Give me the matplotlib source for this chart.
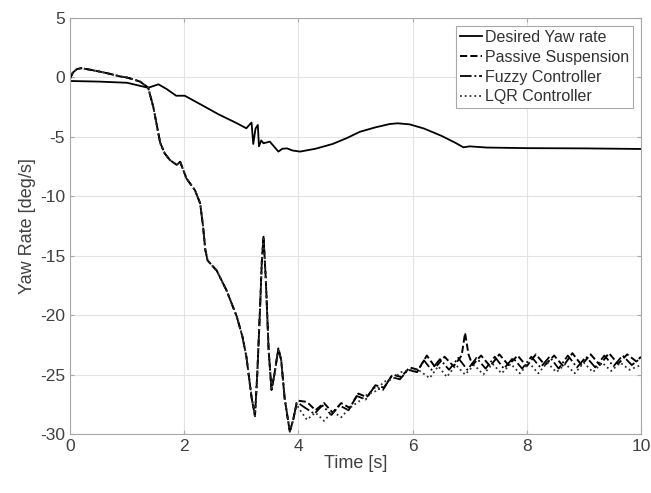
import matplotlib
matplotlib.use("Agg")
import matplotlib.pyplot as plt

plt.rcParams['font.family'] = ['Liberation Sans', 'DejaVu Sans']
plt.rcParams['axes.unicode_minus'] = False

# desired yaw rate
t_des = [0, 0.5, 1.0, 1.37, 1.55, 1.7, 1.86, 2.01, 2.3, 2.6, 2.9, 3.09, 3.14, 3.18,
         3.21, 3.25, 3.29, 3.31, 3.35, 3.39, 3.5, 3.65, 3.72, 3.8, 3.9, 4.03, 4.3,
         4.6, 4.85, 5.08, 5.35, 5.6, 5.74, 5.95, 6.2, 6.5, 6.75, 6.89, 7.0, 7.3,
         8.0, 9.0, 10.0]
y_des = [-0.3, -0.35, -0.45, -0.87, -0.58, -1.0, -1.54, -1.54, -2.3, -3.1, -3.8, -4.28,
         -4.0, -3.8, -5.6, -4.3, -4.0, -5.8, -5.3, -5.54, -5.4, -6.24, -6.0, -5.97,
         -6.15, -6.24, -6.0, -5.6, -5.1, -4.57, -4.2, -3.92, -3.86, -3.95, -4.3, -4.9,
         -5.5, -5.88, -5.8, -5.9, -5.95, -5.97, -6.02]

# common part of the three vehicle responses (0 - 4 s)
t_early = [0.0, 0.05, 0.12, 0.2, 0.35, 0.53, 0.7, 0.88, 0.99, 1.1, 1.23, 1.37, 1.46,
           1.52, 1.58, 1.66, 1.75, 1.87, 1.93, 2.04, 2.19, 2.28, 2.33, 2.37, 2.41,
           2.57, 2.74, 2.92, 3.02, 3.09, 3.18, 3.24, 3.28, 3.33, 3.36, 3.39, 3.43,
           3.48, 3.53, 3.58, 3.65, 3.7, 3.76, 3.85, 3.91, 3.97]
y_early = [-0.1, 0.4, 0.7, 0.78, 0.65, 0.48, 0.3, 0.08, 0.0, -0.15, -0.36, -0.87, -2.5,
           -4.0, -5.5, -6.4, -6.95, -7.36, -7.1, -8.5, -9.5, -10.6, -12.5, -14.5, -15.4,
           -16.25, -17.9, -20.1, -21.8, -23.5, -26.9, -28.5, -25.0, -19.3, -15.5, -13.4,
           -17.0, -23.0, -26.3, -25.0, -22.8, -23.8, -27.0, -29.8, -28.8, -27.4]

t_pas = [4.0, 4.15, 4.3, 4.45, 4.6, 4.75, 4.9, 5.05, 5.2, 5.35, 5.5, 5.65, 5.8, 5.95,
         6.1, 6.25, 6.4, 6.56, 6.72, 6.86, 6.92, 6.98, 7.05, 7.2, 7.36, 7.52, 7.68,
         7.84, 8.0, 8.16, 8.32, 8.48, 8.64, 8.8, 8.96, 9.12, 9.28, 9.44, 9.6, 9.76,
         9.92, 10.0]
y_pas = [-27.2, -27.3, -28.0, -27.4, -28.2, -27.4, -27.8, -26.6, -26.9, -25.9, -26.1,
         -25.0, -25.2, -24.4, -24.6, -23.4, -24.4, -23.5, -24.3, -23.4, -21.5, -23.3,
         -24.2, -23.4, -24.3, -23.3, -24.2, -23.4, -24.3, -23.3, -24.2, -23.4, -24.3,
         -23.2, -24.2, -23.3, -24.2, -23.2, -24.1, -23.3, -23.9, -23.5]

t_fuz = [4.0, 4.12, 4.28, 4.42, 4.58, 4.72, 4.88, 5.02, 5.18, 5.32, 5.48, 5.62, 5.78,
         5.92, 6.08, 6.2, 6.33, 6.48, 6.64, 6.8, 6.96, 7.12, 7.28, 7.44, 7.6, 7.76,
         7.92, 8.08, 8.24, 8.4, 8.56, 8.72, 8.88, 9.04, 9.2, 9.36, 9.52, 9.68, 9.84, 10.0]
y_fuz = [-27.4, -27.8, -28.3, -27.6, -28.4, -27.6, -28.0, -26.8, -27.1, -26.1, -26.3,
         -25.2, -25.4, -24.6, -24.8, -23.8, -24.6, -23.7, -24.6, -23.6, -24.6, -23.6,
         -24.5, -23.5, -24.5, -23.6, -24.5, -23.5, -24.4, -23.5, -24.5, -23.4, -24.4,
         -23.5, -24.4, -23.4, -24.3, -23.4, -24.2, -23.6]

t_lqr = [4.0, 4.15, 4.3, 4.45, 4.6, 4.75, 4.9, 5.05, 5.2, 5.35, 5.5, 5.65, 5.8, 5.95,
         6.1, 6.3, 6.45, 6.6, 6.76, 6.92, 7.08, 7.24, 7.4, 7.56, 7.72, 7.88, 8.04,
         8.2, 8.36, 8.52, 8.68, 8.84, 9.0, 9.16, 9.32, 9.48, 9.64, 9.8, 10.0]
y_lqr = [-27.8, -28.8, -28.2, -28.9, -28.1, -28.6, -27.8, -27.3, -26.7, -26.4, -25.6,
         -25.4, -24.8, -24.6, -24.6, -25.3, -24.3, -25.2, -24.2, -25.0, -24.2, -25.0,
         -24.1, -24.9, -24.1, -24.9, -24.0, -24.9, -24.0, -24.8, -24.1, -24.9, -24.0,
         -24.8, -24.0, -24.7, -24.0, -24.6, -24.2]

fig = plt.figure(figsize=(6.51, 4.93), dpi=100)
ax = fig.add_axes([0.1075, 0.1197, 0.877, 0.8438])

ax.plot(t_des, y_des, '-', color='black', lw=1.3, label='Desired Yaw rate')
ax.plot(t_early + t_pas, y_early + y_pas, '--', color='black', lw=1.4, label='Passive Suspension')
ax.plot(t_early + t_fuz, y_early + y_fuz, '-.', color='black', lw=1.3, label='Fuzzy Controller')
ax.plot(t_early + t_lqr, y_early + y_lqr, ':', color='#333333', lw=1.3, label='LQR Controller')

ax.set_xlim(0, 10)
ax.set_ylim(-30, 5)
ax.set_xticks([0, 2, 4, 6, 8, 10])
ax.set_yticks([5, 0, -5, -10, -15, -20, -25, -30])
ax.grid(True, color='#e3e3e3', lw=0.8)
ax.set_axisbelow(True)
for s in ax.spines.values():
    s.set_color('#a8a8a8')
ax.tick_params(direction='in', length=3, colors='#a8a8a8', labelcolor='#404040',
               labelsize=12.5, top=True, right=True)
ax.set_xlabel('Time [s]', fontsize=13, color='#404040', labelpad=1)
ax.set_ylabel('Yaw Rate [deg/s]', fontsize=13, color='#404040', labelpad=3)

leg = ax.legend(loc='upper right', fontsize=11.5, handlelength=1.4, handletextpad=0.15,
                labelspacing=0.3, borderpad=0.25, borderaxespad=0.5, fancybox=False,
                edgecolor='#a8a8a8', framealpha=1)
for txt in leg.get_texts():
    txt.set_color('#333333')
leg.get_frame().set_linewidth(0.8)

fig.savefig('out.png', dpi=100)
